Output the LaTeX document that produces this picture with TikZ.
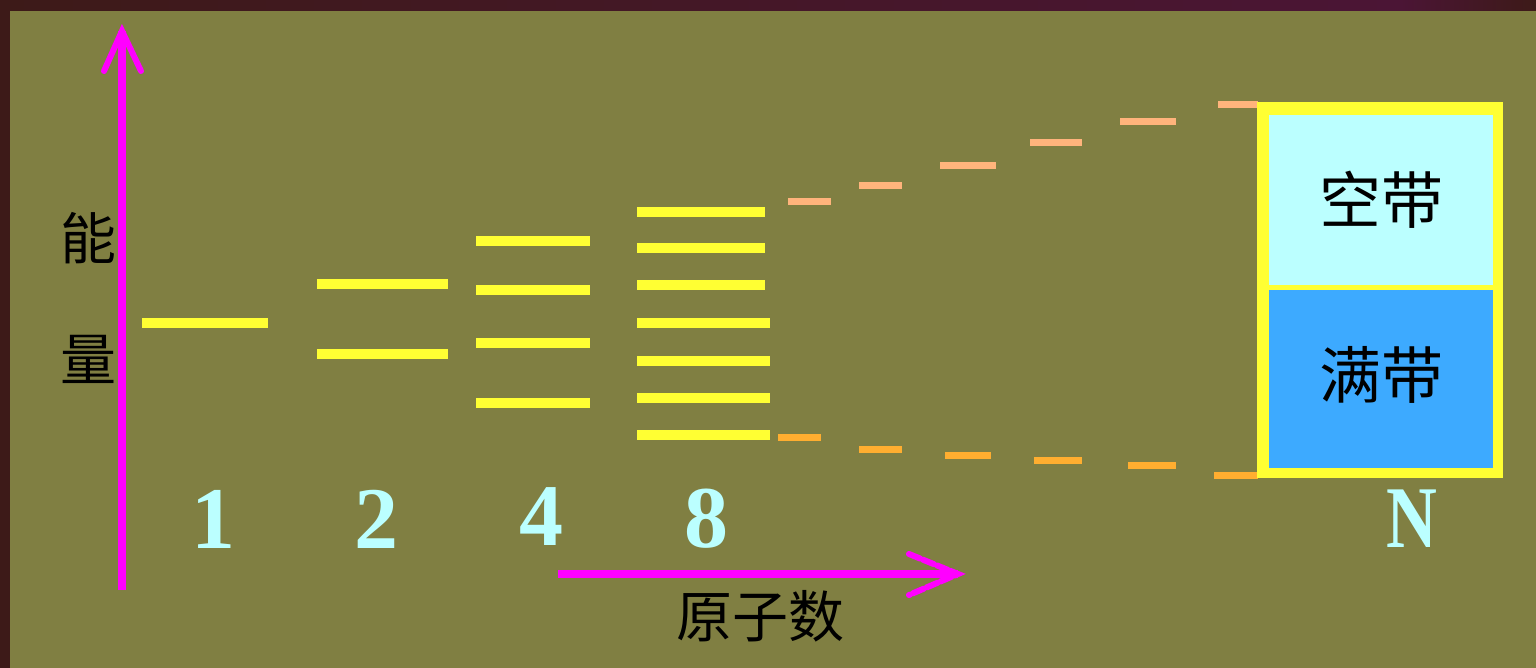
\documentclass[tikz,border=0pt]{standalone}
\usepackage{fontspec}
\setmainfont{Liberation Serif}
\newfontfamily\cjk{Noto Sans CJK SC}
\definecolor{bg}{HTML}{807F42}
\definecolor{frameA}{HTML}{3D1A18}
\definecolor{frameB}{HTML}{4B1535}
\definecolor{axis}{HTML}{FF00FF}
\definecolor{lvl}{HTML}{FFFF33}
\definecolor{peach}{HTML}{FFB47C}
\definecolor{orng}{HTML}{FFAE30}
\definecolor{cyanl}{HTML}{BBFFFF}
\definecolor{bandblue}{HTML}{3DAAFF}
\tikzset{
  level/.style={lvl, line width=5pt},
  updash/.style={peach, line width=3.5pt},
  lowdash/.style={orng, line width=3.5pt},
  axisline/.style={axis, line width=4pt},
  barb/.style={axis, line width=3pt, line cap=round},
  numlabel/.style={text=cyanl, font=\fontsize{44}{44}\selectfont\bfseries, inner sep=0pt},
  cjklabel/.style={text=black, inner sep=0pt},
}
\begin{document}
\begin{tikzpicture}[x=0.5pt, y=-0.5pt]
\useasboundingbox (0,0) rectangle (1536,668);
\fill[bg] (0,0) rectangle (1536,668);
\shade[left color=frameA, right color=frameB] (0,0) rectangle (1400,11);
\shade[left color=frameB, right color=frameA] (1400,0) rectangle (1536,11);
\fill[frameA] (0,0) rectangle (10,668);

% vertical axis
\coordinate (ybot) at (122,590);
\coordinate (ytop) at (122,31);
\coordinate (yl) at (104,71);
\coordinate (yr) at (141,71);
\draw[axisline] (ybot) -- (ytop);
\draw[barb] (yl) -- (ytop) -- (yr);

% horizontal axis
\coordinate (xl) at (558,574);
\coordinate (xr) at (958,574);
\coordinate (xa) at (909,554);
\coordinate (xb) at (909,595);
\draw[axisline] (xl) -- (xr);
\draw[barb, dash pattern=on 6pt off 1.5pt] (xa) -- (xr) -- (xb);

% axis labels
\node[cjklabel, font=\cjk\fontsize{28}{28}\selectfont] (neng) at (88,238) {能};
\node[cjklabel, font=\cjk\fontsize{28}{28}\selectfont] (liang) at (88,359) {量};
\node[cjklabel, font=\cjk\fontsize{28}{28}\selectfont] (yzs) at (760,616) {原子数};

% energy levels
\draw[level] (142,323) -- (268,323);
\draw[level] (317,284) -- (448,284);
\draw[level] (317,354) -- (448,354);
\foreach \y in {241,290,343,403} \draw[level] (476,\y) -- (590,\y);
\foreach \y in {212,248,285} \draw[level] (637,\y) -- (765,\y);
\foreach \y in {323,361,398,435} \draw[level] (637,\y) -- (770,\y);

% dashes widening
\draw[updash] (788,202) -- (831,202);
\draw[updash] (859,186) -- (902,186);
\draw[updash] (940,166) -- (996,166);
\draw[updash] (1030,143) -- (1082,143);
\draw[updash] (1120,122) -- (1176,122);
\draw[updash] (1218,105) -- (1258,105);
\draw[lowdash] (778,437) -- (821,437);
\draw[lowdash] (859,449) -- (902,449);
\draw[lowdash] (945,455) -- (991,455);
\draw[lowdash] (1034,460) -- (1082,460);
\draw[lowdash] (1128,465) -- (1176,465);
\draw[lowdash] (1214,475) -- (1258,475);

% band box
\fill[lvl] (1257,102) rectangle (1503,478);
\fill[cyanl] (1269,115) rectangle (1493,285);
\fill[bandblue] (1269,290) rectangle (1493,468);
\node[cjklabel, font=\cjk\fontsize{31}{31}\selectfont] (kong) at (1381,200) {空带};
\node[cjklabel, font=\cjk\fontsize{31}{31}\selectfont] (man) at (1381,375) {满带};

% numbers
\node[numlabel] (n1) at (213,519) {1};
\node[numlabel] (n2) at (376,519) {2};
\node[numlabel] (n4) at (541,517) {4};
\node[numlabel] (n8) at (706,519) {8};
\node[numlabel, xscale=0.8] (nN) at (1412,519) {N};
\end{tikzpicture}
\end{document}
